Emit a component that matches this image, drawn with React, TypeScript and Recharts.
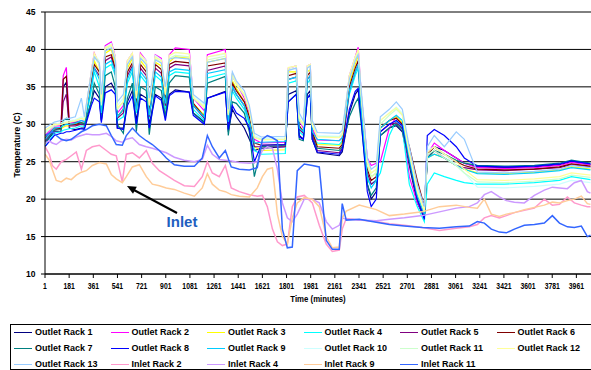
import React from "react";
import { CartesianGrid, Line, LineChart, XAxis, YAxis } from "recharts";

// sample times (minutes) for the outlet racks and for the inlet racks
const outletMinutes = [
  1, 70, 120, 137, 160, 182, 227, 272, 294, 346, 368, 406, 421, 450, 495, 525, 540, 585, 615, 652,
  682, 712, 756, 778, 823, 868, 898, 927, 972, 1076, 1106, 1188, 1211, 1345, 1367, 1397, 1427, 1486, 1524, 1561,
  1613, 1792, 1814, 1874, 1896, 1926, 1956, 1978, 1993, 2030, 2194, 2216, 2269, 2313, 2335, 2358, 2403, 2432, 2470, 2500,
  2567, 2619, 2664, 2716, 2775, 2828, 2850, 2902, 2977, 3066, 3126, 3223, 3424, 3648, 3835, 3924, 4066,
];

const inletMinutes = [
  1, 33, 55, 85, 122, 160, 197, 234, 272, 309, 354, 406, 458, 495, 532, 577, 607, 652, 704, 756,
  801, 853, 905, 965, 1039, 1114, 1173, 1211, 1248, 1300, 1345, 1389, 1449, 1524, 1583, 1621, 1658, 1696, 1733, 1770,
  1807, 1844, 1881, 1933, 1993, 2045, 2097, 2142, 2194, 2216, 2246, 2343, 2470, 2567, 2679, 2813, 2940, 3066, 3163, 3223,
  3275, 3327, 3387, 3439, 3499, 3573, 3648, 3722, 3782, 3835, 3894, 3946, 3998, 4043, 4066,
];

const outletRack1 = [
  27.5, 29, 29, 35, 35.6, 29.5, 29.3, 29.5, 29.5, 33, 34.5, 33.5, 30.5, 35, 35.5, 34.5, 29.5, 29.5, 33, 34.5,
  30.5, 34, 33.5, 30, 34, 33.5, 31, 34, 34.6, 34.3, 31.5, 30.3, 33.5, 34.4, 29, 32, 31, 29.5, 28, 26.5,
  26.8, 27, 34, 34.5, 28.5, 28, 34, 34.5, 28, 26.2, 25.8, 26.3, 31.5, 34, 34.6, 31, 22, 20, 21, 28.5,
  29.5, 29.8, 29, 24.5, 19.5, 17.5, 26, 27, 26.5, 25.5, 24.8, 24.3, 24.2, 24.3, 24.6, 25, 24.6,
];
const outletRack2 = [
  28.5, 29.8, 29.8, 36.5, 37.6, 30.2, 30.3, 30.5, 30.4, 37, 39.5, 38, 33, 40.5, 41, 39, 31.5, 32.5, 38.5, 39.5,
  33, 39.5, 38.5, 32, 39.3, 38.8, 33.5, 39.3, 40.2, 40, 33.5, 31.8, 39.3, 40, 31, 36.5, 35.5, 33.5, 31.5, 28,
  27.5, 27.6, 37.5, 37.8, 30.5, 29.5, 37.8, 38, 29.5, 27.9, 27.8, 28.2, 36.5, 39, 40.3, 34, 25.5, 24.5, 24.8, 25,
  29.5, 31, 30, 23, 19.5, 17.8, 26, 27.5, 26.5, 25.5, 24.8, 24.2, 24.1, 24.2, 24.5, 24.9, 24.6,
];
const outletRack3 = [
  28, 29.3, 29.4, 29.6, 29.8, 29.8, 30, 30.2, 30.1, 36, 38.5, 37, 32, 39.5, 40, 38, 31, 32, 37.5, 38.8,
  32.5, 38.5, 37.5, 31.5, 38.3, 37.8, 33, 38.3, 39, 38.8, 32.8, 31.2, 38.3, 38.8, 30.5, 35.8, 34.8, 33, 31, 27,
  26.5, 26.6, 37, 37, 29.8, 29, 37, 37.3, 29, 27.3, 27.2, 27.6, 35.5, 38, 39.2, 33, 24.5, 23, 23.5, 29.5,
  30.5, 31, 30.2, 25.5, 20.5, 18, 25.5, 26, 25.5, 24.5, 24, 23.5, 23.4, 23.6, 23.9, 24.3, 24,
];
const outletRack4 = [
  27, 28.8, 29, 29.2, 29.3, 29.4, 29.5, 29.8, 29.7, 34.5, 37, 35, 31, 37.5, 38, 36.5, 30.5, 31, 35.5, 37,
  31.5, 36.5, 35.5, 30.8, 36.5, 35.8, 32, 36.5, 37, 36.8, 32, 30.5, 36.2, 36.8, 29.8, 34.5, 33.5, 32, 30, 26.5,
  26, 26.1, 35.5, 35.8, 29, 28.5, 35.5, 36, 28.5, 27.5, 27.3, 27.8, 34, 36.5, 37.5, 31.5, 22.5, 22, 22.6, 23.5,
  28.5, 30.5, 29.5, 22, 19, 17, 22, 23.5, 23, 22.5, 22.2, 22, 22, 22.2, 22.5, 23, 22.6,
];
const outletRack5 = [
  27.8, 29.2, 29.5, 33, 34, 29.8, 29.8, 30, 29.9, 35.5, 37.5, 36.5, 31.5, 38.5, 39, 37, 30.8, 31.5, 36.5, 37.8,
  32, 37.5, 36.5, 31, 37.5, 36.8, 32.5, 37.5, 38, 37.8, 32.5, 30.8, 37.2, 37.8, 30, 35, 34, 32.5, 30.5, 27,
  27, 27, 36, 36.3, 29.3, 28.8, 36, 36.5, 28.5, 26.5, 26.2, 26.8, 34.5, 37, 38, 32, 23.5, 22, 22.5, 29,
  30, 30.2, 29.5, 25, 20, 17.8, 25.5, 26.5, 25.5, 24.5, 24.2, 23.9, 23.8, 24, 24.2, 24.6, 24.3,
];
const outletRack6 = [
  28.2, 29.5, 29.5, 36, 36.4, 30, 30, 30.2, 30.1, 36, 38, 37, 32, 39, 39.3, 37.5, 31, 32, 37, 38.2,
  32.5, 38, 37, 31.5, 38, 37.3, 33, 38, 38.4, 38.2, 32.8, 31, 37.8, 38.2, 30.3, 35.5, 34.5, 33, 31, 27.5,
  27.2, 27.3, 36.5, 36.8, 29.8, 29, 36.5, 37, 29, 27, 26.8, 27.3, 35, 37.5, 38.5, 33, 24, 22.5, 23, 29.5,
  30.5, 30.8, 30, 27, 22.5, 19, 26, 27, 26, 25, 24.5, 24, 23.9, 24, 24.3, 24.7, 24.4,
];
const outletRack7 = [
  27.5, 29.2, 29.3, 30.5, 30.8, 30.5, 30.3, 30.2, 30, 33, 35.5, 34, 30.5, 36.5, 37, 35, 30, 28.8, 33.5, 35.5,
  29, 35, 34.5, 28.6, 35, 34.5, 31, 35.5, 36.5, 36.3, 31.5, 30.2, 35.5, 36.4, 28.5, 33, 32.8, 31.5, 29, 23,
  27, 27.2, 33, 34, 28, 27.8, 33.5, 34, 28, 26.8, 26.5, 27, 31, 32.8, 33.5, 30, 22, 20.5, 21.5, 28.5,
  29.5, 30, 29.3, 25, 20, 17.5, 25.5, 26.5, 26, 25.2, 24.8, 24.5, 24.4, 24.5, 24.8, 25.2, 24.8,
];
const outletRack8 = [
  27, 28.5, 28.8, 28.8, 29, 29, 29.2, 29.4, 29.3, 32.5, 33.5, 33, 30.2, 34.2, 34.6, 34, 29.5, 29.3, 32.5, 33.8,
  30, 33.5, 33, 29.5, 33.8, 33.2, 30.5, 33.8, 34.4, 34.3, 31.2, 30, 33.5, 34.3, 29.3, 32.5, 31.5, 30.8, 29.5, 25,
  27.2, 27.3, 33, 34, 28.3, 28, 33.5, 34, 28, 26.3, 26, 26.6, 32, 34.4, 34.8, 30.5, 21, 19, 20, 29,
  30, 30.5, 29.8, 25.5, 20, 17.3, 28.5, 29.3, 28.5, 27, 25.5, 24.4, 24.3, 24.4, 24.7, 25.1, 24.7,
];
const outletRack9 = [
  28, 29.5, 29.6, 29.8, 30, 30, 30.1, 30.5, 30.3, 35, 37.5, 36, 31.5, 38, 38.5, 37, 31, 32, 36, 37.5,
  32, 37, 36, 31.2, 37, 36.3, 32.8, 37, 37.4, 37.2, 32.5, 31, 36.8, 37.3, 30.3, 35, 34, 32.5, 30.5, 27.5,
  27.6, 27.7, 36, 36.3, 29.5, 29, 36, 36.5, 29, 28, 27.8, 28.2, 34.5, 37, 38, 32, 23, 21.5, 22.5, 29.5,
  30.5, 31.2, 30.5, 25.5, 20.5, 18, 25.5, 26, 25.5, 24.5, 24, 23.4, 23.3, 23.5, 23.8, 24.2, 23.9,
];
const outletRack10 = [
  29, 30, 30.2, 30.3, 30.5, 30.5, 30.6, 31, 30.8, 37, 39.3, 38.5, 33.5, 40.3, 40.8, 39, 32.5, 33.5, 38.5, 39.5,
  34, 39.3, 38.5, 33, 39.2, 38.6, 34.5, 39.2, 39.6, 39.4, 33.8, 32.5, 39, 39.4, 31.5, 36.8, 35.5, 34, 32, 28.5,
  28.1, 28.2, 37.5, 37.8, 31, 30, 37.8, 38, 30, 28.5, 28.4, 28.8, 36.5, 39, 39.8, 34, 25, 23.5, 24, 30.5,
  31.5, 32.3, 31.5, 26.5, 21.5, 18.5, 26.5, 27, 26, 24.5, 23.5, 21.6, 21.5, 21.7, 22, 22.5, 22.2,
];
const outletRack11 = [
  28.8, 29.8, 30, 30.1, 30.2, 30.3, 30.4, 30.8, 30.6, 36.5, 39, 38, 32.5, 40, 40.5, 38.5, 32, 33, 38, 39.2,
  33.5, 39, 38, 32.5, 38.8, 38.2, 34, 38.8, 39.2, 39, 33.5, 32.2, 38.6, 39.1, 31.2, 36.5, 35.3, 33.8, 31.8, 28.3,
  28, 28, 37.3, 37.5, 30.5, 29.8, 37.5, 37.8, 29.8, 28.4, 28.3, 28.6, 36, 38.7, 39.5, 33.5, 24.5, 23, 23.5, 30,
  31.2, 32, 31.2, 26, 21, 18.3, 26, 26.5, 25.5, 24.5, 23.5, 22.3, 22.2, 22.4, 22.7, 23.2, 22.9,
];
const outletRack12 = [
  29.2, 30, 30, 30.1, 30.3, 30.3, 30.5, 30.8, 30.6, 37, 39.5, 38, 33, 40.2, 40.6, 38.8, 32.2, 33, 38.5, 39.5,
  33.5, 39.3, 38.3, 32.6, 39, 38.5, 34, 39.2, 39.6, 39.4, 33.6, 32.3, 39, 39.5, 31.3, 36.8, 35.5, 34, 32, 28.2,
  27.9, 28, 37.6, 37.8, 30.8, 30, 37.8, 38, 30, 28.3, 28.2, 28.6, 36.5, 39, 40, 34, 25, 23.5, 24, 30.5,
  31.5, 32.2, 31.3, 26.3, 21.2, 18.5, 26.2, 27, 26, 25, 24, 22.6, 22.5, 22.7, 23, 23.5, 23.2,
];
const outletRack13 = [
  29.5, 30.3, 30.5, 30.6, 30.8, 30.8, 31, 33.5, 31, 36.8, 39, 38.2, 34, 39.8, 40.2, 38.5, 33, 34, 38, 39,
  34.5, 38.8, 38, 33.5, 38.6, 38.2, 35, 38.7, 38.9, 38.7, 34, 32.8, 38.3, 38.8, 32, 37, 35.8, 34.5, 32.5, 28.8,
  28.3, 28.4, 37.2, 37.5, 31.5, 30.5, 37.5, 37.8, 30.5, 28.9, 28.8, 29.2, 36, 38.5, 39.3, 34.5, 25.5, 24, 24.5, 31,
  32, 33, 32, 27, 22, 19, 27, 28.5, 27, 29, 28, 23.6, 23.5, 23.7, 24, 24.5, 24.2,
];

const inletRack2 = [
  27, 26, 24.5, 24, 25, 25.3, 25.8, 26.3, 24, 26.5, 27, 27.2, 26.5, 26, 25.8, 22.3, 26, 26.2, 25.5, 26.5,
  24.8, 23.8, 23.2, 22.5, 21.8, 21.7, 23, 25, 23.5, 23, 24.5, 21.5, 21, 20.6, 20.4, 20.5, 19, 16, 14.3, 13.8,
  14, 19, 20.3, 20.5, 19.5, 16.5, 14, 13, 13.2, 16, 17.4, 17.2, 17, 16.7, 16.5, 16.2, 15.8, 16.1, 16.3, 16.6,
  17.5, 17.8, 17.5, 17.8, 18.2, 18.5, 18.8, 20, 19.2, 19.3, 20.3, 19.5, 19.2, 19, 19,
];
const inletRack4 = [
  27.5, 27.8, 27.5, 27.3, 27.8, 28, 27.9, 28.3, 28.5, 28.7, 28.6, 28.6, 28.8, 28.4, 27.8, 27.6, 28, 28.2, 27.3, 27,
  26.8, 26.5, 26.2, 25.6, 25.2, 25, 25.3, 27.2, 26, 25.3, 25.2, 25.1, 24.9, 24.8, 25, 26.5, 27, 26.8, 24, 19.5,
  17.5, 17, 18, 20, 20, 19.5, 17, 16, 16.5, 17.5, 17.3, 17.2, 17.1, 17.3, 17.5, 17.8, 18.3, 18.8, 19, 19.5,
  20.6, 21, 20.3, 19.8, 19.6, 19.5, 20.5, 21.2, 21.6, 21.5, 21.4, 22.2, 22.5, 21, 20.8,
];
const inletRack9 = [
  26, 25.2, 24, 22.5, 22.3, 22.8, 22.6, 23.2, 23.6, 23.8, 24.5, 24.9, 24.7, 23.3, 22.7, 22.2, 23, 24.3, 24.6, 23,
  22, 21.8, 21.5, 21.3, 20.8, 20.4, 21.5, 23.4, 22, 21.2, 21, 20.6, 20.4, 20.3, 21.5, 23, 24, 24.2, 18, 15,
  14, 17.5, 19.5, 20.2, 20, 19, 15, 13.5, 13.6, 17.5, 18.4, 19.2, 18.6, 17.8, 18, 18.3, 19, 19.2, 18.9, 18.8,
  20, 18, 17.7, 18, 18.2, 18.6, 18.9, 19.2, 19.6, 19.5, 19.8, 20, 20.4, 19.4, 19.3,
];
const inletRack11 = [
  28.5, 28.8, 29, 28.5, 28, 27.8, 28, 28.5, 29, 29.3, 29.8, 30, 29.8, 28.5, 27.3, 27.2, 28.5, 29.5, 28.5, 27.8,
  27.3, 26.5, 25.5, 24.6, 24.4, 24.4, 25.5, 28.5, 27, 25.5, 26.5, 24.3, 24, 23.9, 24.2, 28, 28.5, 28.2, 27.8, 16,
  13.5, 13.6, 23.8, 24.7, 24.5, 24.3, 14.5, 13.3, 13.3, 19.4, 17.2, 17.3, 16.9, 16.6, 16.4, 16.2, 16.1, 16.3, 16.4, 17,
  16.8, 16, 15.6, 15.5, 16, 16.5, 16.6, 16.8, 17.8, 16.8, 16.3, 16.2, 16.4, 15, 15.2,
];

const xTicks = [1, 181, 361, 541, 721, 901, 1081, 1261, 1441, 1621, 1801, 1981, 2161, 2341, 2521, 2701, 2881, 3061, 3241, 3421, 3601, 3781, 3961];
const yTicks = [10, 15, 20, 25, 30, 35, 40, 45];

const series = [
  { name: "Outlet Rack 1", color: "#000080", values: outletRack1, minutes: outletMinutes },
  { name: "Outlet Rack 2", color: "#ff00ff", values: outletRack2, minutes: outletMinutes },
  { name: "Outlet Rack 3", color: "#ffff00", values: outletRack3, minutes: outletMinutes },
  { name: "Outlet Rack 4", color: "#00ffff", values: outletRack4, minutes: outletMinutes },
  { name: "Outlet Rack 5", color: "#800080", values: outletRack5, minutes: outletMinutes },
  { name: "Outlet Rack 6", color: "#800000", values: outletRack6, minutes: outletMinutes },
  { name: "Outlet Rack 7", color: "#008080", values: outletRack7, minutes: outletMinutes },
  { name: "Outlet Rack 8", color: "#0000ff", values: outletRack8, minutes: outletMinutes },
  { name: "Outlet Rack 9", color: "#00ccff", values: outletRack9, minutes: outletMinutes },
  { name: "Outlet Rack 10", color: "#ccffff", values: outletRack10, minutes: outletMinutes },
  { name: "Outlet Rack 11", color: "#ccffcc", values: outletRack11, minutes: outletMinutes },
  { name: "Outlet Rack 12", color: "#ffff99", values: outletRack12, minutes: outletMinutes },
  { name: "Outlet Rack 13", color: "#99ccff", values: outletRack13, minutes: outletMinutes },
  { name: "Inlet Rack 2", color: "#ff99cc", values: inletRack2, minutes: inletMinutes },
  { name: "Inlet Rack 4", color: "#cc99ff", values: inletRack4, minutes: inletMinutes },
  { name: "Inlet Rack 9", color: "#ffcc99", values: inletRack9, minutes: inletMinutes },
  { name: "Inlet Rack 11", color: "#3366ff", values: inletRack11, minutes: inletMinutes },
];

const FONT = "'Liberation Sans', Arial, sans-serif";

function XTick({ x, y, payload }: any) {
  return (
    <text
      transform={`translate(${x},${y + 9}) scale(0.8,1)`}
      textAnchor="middle"
      fontSize={8.5}
      fontWeight="bold"
      fontFamily={FONT}
      fill="#000"
    >
      {payload.value}
    </text>
  );
}

function YTick({ x, y, payload }: any) {
  return (
    <text x={x - 3.5} y={y + 3} textAnchor="end" fontSize={8.5} fontWeight="bold" fontFamily={FONT} fill="#000">
      {payload.value}
    </text>
  );
}

export default function App() {
  return (
    <div
      style={{
        position: "absolute",
        left: 0,
        top: 0,
        width: 591,
        height: 370,
        background: "#fff",
        overflow: "hidden",
        fontFamily: FONT,
      }}
    >
      <LineChart width={591} height={310} margin={{ top: 12, right: 0, bottom: 16, left: 0 }}>
        <CartesianGrid horizontal vertical={false} stroke="#000" strokeWidth={1} />
        <XAxis
          dataKey="m"
          type="number"
          domain={[1, 4070]}
          ticks={xTicks}
          interval={0}
          height={20}
          tickSize={4}
          axisLine={{ stroke: "#000" }}
          tickLine={{ stroke: "#000" }}
          tick={(p: any) => <XTick {...p} />}
          allowDataOverflow
        />
        <YAxis
          type="number"
          domain={[10, 45]}
          ticks={yTicks}
          interval={0}
          width={45}
          tickSize={4}
          axisLine={{ stroke: "#000" }}
          tickLine={{ stroke: "#000" }}
          tick={(p: any) => <YTick {...p} />}
          allowDataOverflow
        />
        {series.map((s) => (
          <Line
            key={s.name}
            data={s.minutes.map((m, i) => ({ m, v: s.values[i] }))}
            dataKey="v"
            name={s.name}
            stroke={s.color}
            strokeWidth={s.name.startsWith("Inlet") ? 1.5 : 1.2}
            dot={false}
            activeDot={false}
            isAnimationActive={false}
          />
        ))}
      </LineChart>

      <svg width={591} height={370} style={{ position: "absolute", left: 0, top: 0, pointerEvents: "none" }}>
        <text
          transform="translate(19.5,145) rotate(-90)"
          textAnchor="middle"
          fontSize={8.5}
          fontWeight="bold"
          fontFamily={FONT}
          fill="#000"
        >
          Temperature (C)
        </text>
        <text
          transform="translate(318,302) scale(0.92,1)"
          textAnchor="middle"
          fontSize={8.5}
          fontWeight="bold"
          fontFamily={FONT}
          fill="#000"
        >
          Time (minutes)
        </text>
        <line x1={177} y1={213} x2={133} y2={189.5} stroke="#000" strokeWidth={2} />
        <polygon points="127,186 136.8,186.8 133,193.8" fill="#000" />
        <text x={182} y={227} textAnchor="middle" fontSize={15} fontWeight="bold" fontFamily={FONT} fill="#1f5fc0">
          Inlet
        </text>
      </svg>

      <div
        style={{
          position: "absolute",
          left: 10,
          top: 324,
          width: 620,
          height: 46,
          border: "1px solid #000",
          boxSizing: "border-box",
        }}
      />
      {series.map((s, i) => {
        const col = i % 6;
        const row = Math.floor(i / 6);
        const left = 14 + col * 96.5;
        const top = 332 + row * 16;
        return (
          <div key={s.name} style={{ position: "absolute", left, top: top - 6, height: 12, display: "flex", alignItems: "center" }}>
            <div style={{ width: 18, height: 0, borderTop: `1.5px solid ${s.color}` }} />
            <span style={{ marginLeft: 3, fontSize: 9, fontWeight: "bold", color: "#000", whiteSpace: "nowrap" }}>
              {s.name}
            </span>
          </div>
        );
      })}
    </div>
  );
}
